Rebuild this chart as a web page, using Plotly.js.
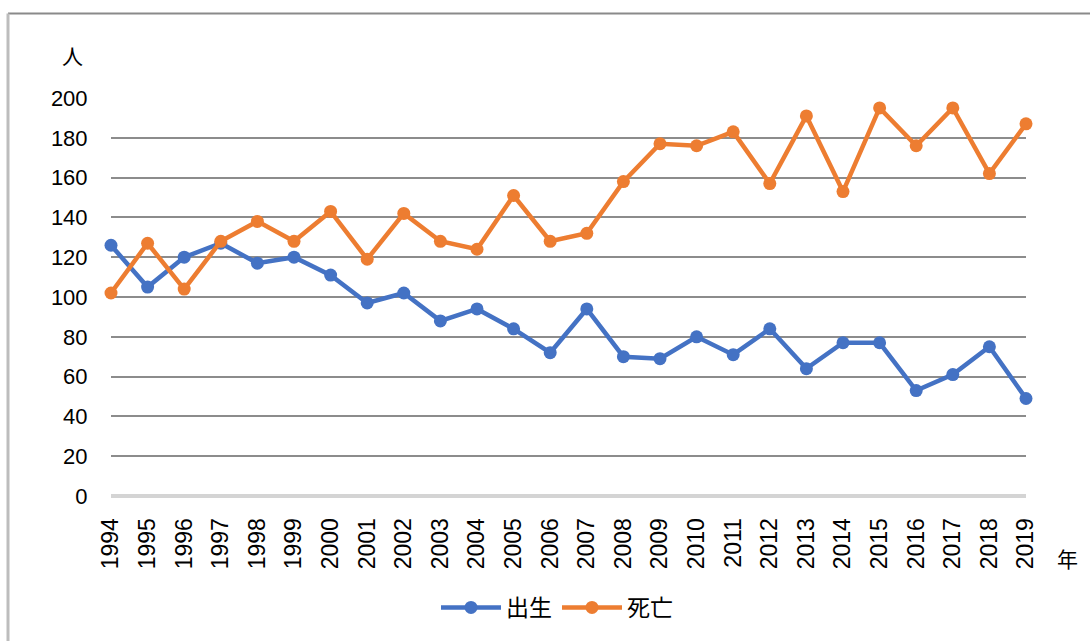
<!DOCTYPE html>
<html>
<head>
<meta charset="utf-8">
<script src="https://cdn.plot.ly/plotly-3.0.1.min.js"></script>
<style>html,body{margin:0;padding:0;background:#fff;}#chart{width:1090px;height:641px;}</style>
</head>
<body>
<div id="chart"></div>
<script>
const years = ["1994","1995","1996","1997","1998","1999","2000","2001","2002","2003","2004","2005","2006","2007","2008","2009","2010","2011","2012","2013","2014","2015","2016","2017","2018","2019"];
const births = [126,105,120,127,117,120,111,97,102,88,94,84,72,94,70,69,80,71,84,64,77,77,53,61,75,49];
const deaths = [102,127,104,128,138,128,143,119,142,128,124,151,128,132,158,177,176,183,157,191,153,195,176,195,162,187];
const yTicks = [0,20,40,60,80,100,120,140,160,180,200];

const W = 1090, H = 641;
const mL = 111, mR = 64, mT = 98, mB = 143;
const pw = W - mL - mR, ph = H - mT - mB;
const px = x => (x - mL) / pw;
const py = y => (H - mB - y) / ph;

const font = "Liberation Sans, Arial, sans-serif";
const cjk = "Noto Sans CJK JP, sans-serif";

const traces = [
  {x: years, y: births, name: "出生", type: "scatter", mode: "lines+markers",
   line: {color: "#4472C4", width: 4.5}, marker: {color: "#4472C4", size: 13}, cliponaxis: false},
  {x: years, y: deaths, name: "死亡", type: "scatter", mode: "lines+markers",
   line: {color: "#ED7D31", width: 4.5}, marker: {color: "#ED7D31", size: 13}, cliponaxis: false}
];

const layout = {
  width: W, height: H,
  margin: {l: mL, r: mR, t: mT, b: mB, pad: 0},
  paper_bgcolor: "#fff", plot_bgcolor: "#fff",
  showlegend: true,
  legend: {orientation: "h", x: px(557), xanchor: "center", y: py(610), yanchor: "middle",
    font: {family: cjk, size: 23, color: "#000"}, itemwidth: 60, traceorder: "normal"},
  xaxis: {type: "category", range: [0, years.length - 1], showgrid: false, zeroline: false,
    showline: false, tickangle: -90, ticks: "outside", ticklen: 12, tickcolor: "rgba(0,0,0,0)",
    tickfont: {family: font, size: 23, color: "#000"}, fixedrange: true},
  yaxis: {range: [0, 200], tickvals: yTicks, ticktext: yTicks.map(String), showgrid: true,
    gridcolor: "#8c8c8c", gridwidth: 2, zeroline: true, zerolinecolor: "#d4d4d4", zerolinewidth: 4,
    showline: false, ticks: "outside", ticklen: 18, tickcolor: "rgba(0,0,0,0)",
    tickfont: {family: font, size: 22, color: "#000"}, fixedrange: true},
  annotations: [
    {text: "人", xref: "paper", yref: "paper", x: px(72), y: py(55), showarrow: false,
     font: {family: cjk, size: 21, color: "#000"}, xanchor: "center", yanchor: "middle"},
    {text: "年", xref: "paper", yref: "paper", x: px(1067), y: py(560), showarrow: false,
     font: {family: cjk, size: 21, color: "#000"}, xanchor: "center", yanchor: "middle"}
  ],
  shapes: [
    {type: "line", xref: "paper", yref: "paper", x0: px(8), x1: px(1092), y0: py(13), y1: py(13),
     line: {color: "#8a8a8a", width: 2}},
    {type: "line", xref: "paper", yref: "paper", x0: px(8), x1: px(8), y0: py(13), y1: py(645),
     line: {color: "#bdbdbd", width: 3}}
  ]
};

Plotly.newPlot("chart", traces, layout, {displayModeBar: false, staticPlot: true});
</script>
</body>
</html>
